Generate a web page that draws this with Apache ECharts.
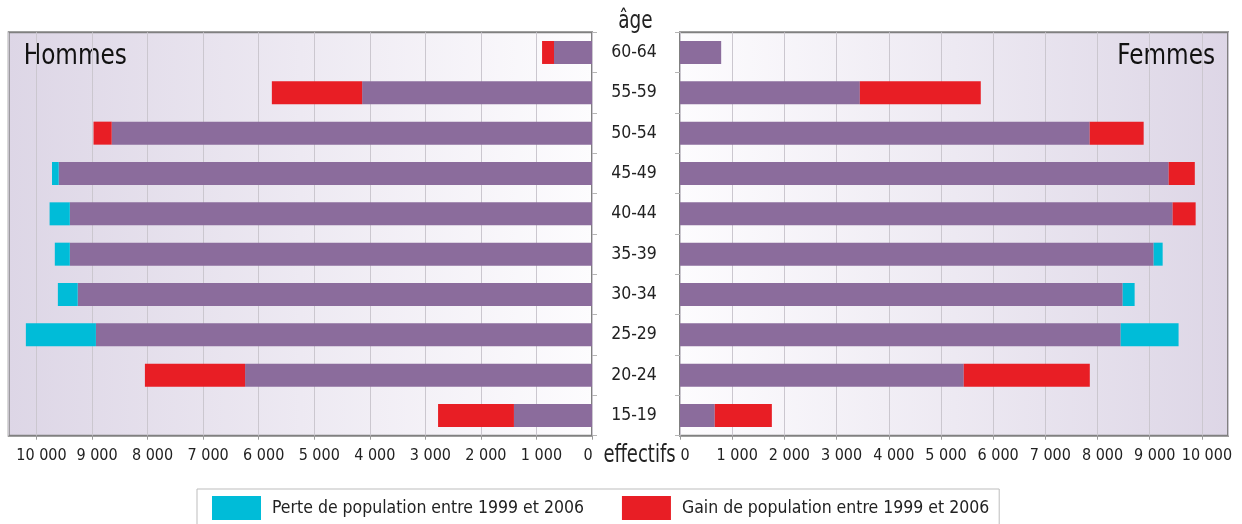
<!DOCTYPE html>
<html>
<head>
<meta charset="utf-8">
<script src="https://cdn.jsdelivr.net/npm/echarts@6/dist/echarts.min.js"></script>
<style>
html,body{margin:0;padding:0;background:#fff;}
#chart{width:1242px;height:524px;}
</style>
</head>
<body>
<div id="chart"></div>
<script>
const categories = ['15-19','20-24','25-29','30-34','35-39','40-44','45-49','50-54','55-59','60-64'];
// Hommes (left)
const hommesBase  = [1405, 6245, 8930, 9258, 9400, 9400, 9600, 8646, 4138, 684];
const hommesPerte = [0, 0, 1261, 357, 270, 364, 121, 0, 0, 0];
const hommesGain  = [1366, 1803, 0, 0, 0, 0, 0, 327, 1625, 215];
// Femmes (right)
const femmesBase  = [666, 5437, 8444, 8482, 9075, 9439, 9363, 7850, 3446, 789];
const femmesPerte = [0, 0, 1109, 229, 173, 0, 0, 0, 0, 0];
const femmesGain  = [1094, 2415, 0, 0, 0, 441, 501, 1034, 2317, 0];
const xTicks = [0,1000,2000,3000,4000,5000,6000,7000,8000,9000,10000];

const PERTE = 'Perte de population entre 1999 et 2006';
const GAIN = 'Gain de population entre 1999 et 2006';
const FONT = "'Liberation Sans Narrow','DejaVu Sans Condensed','Arial Narrow',sans-serif";
const PURPLE = '#8b6c9c', RED = '#e81e25', CYAN = '#00bcd8';
const TXT = '#222';

function fmt(v){
  if (xTicks.indexOf(v) < 0) return '';
  return String(v).replace(/\B(?=(\d{3})+(?!\d))/g, ' ');
}
const tickRich = {
  a:{fontFamily:FONT, fontSize:16, color:TXT, padding:[0,0,0,10]},
  b:{fontFamily:FONT, fontSize:16, color:TXT, padding:[0,8,0,0]}
};
const lav = '#ddd6e6', wht = '#fdfcfe';

const chart = echarts.init(document.getElementById('chart'));
function xAxisCfg(extra, leftSide){
  return Object.assign({
    type:'value', min:0, max:10500, interval:1000,
    axisLine:{show:false},
    axisTick:{show:true, length:4, lineStyle:{color:'#9a9a9a'}},
    splitLine:{show:true, lineStyle:{color:'#cbc7cf', width:1}},
    axisLabel:{
      formatter: v => { const t = fmt(v); if (!t) return ''; return (leftSide && v === 0) ? '{b|' + t + '}' : '{a|' + t + '}'; },
      rich:tickRich, fontFamily:FONT, fontSize:16, color:TXT, margin:12, showMaxLabel:false
    }
  }, extra);
}
chart.setOption({
  animation:false,
  textStyle:{fontFamily:FONT},
  grid:[
    {left:8.7, right:650, top:32.3, bottom:88.3, show:true, borderColor:'#808080', borderWidth:2,
     backgroundColor:new echarts.graphic.LinearGradient(0,0,1,0,[{offset:0,color:lav},{offset:1,color:wht}])},
    {left:680, right:14, top:32.3, bottom:88.3, show:true, borderColor:'#808080', borderWidth:2,
     backgroundColor:new echarts.graphic.LinearGradient(0,0,1,0,[{offset:0,color:wht},{offset:1,color:lav}])}
  ],
  xAxis:[
    xAxisCfg({gridIndex:0, inverse:true}, true),
    xAxisCfg({gridIndex:1}, false)
  ],
  yAxis:[
    {type:'category', gridIndex:0, data:categories, position:'right',
     axisLine:{show:false},
     axisTick:{show:true, length:5, lineStyle:{color:'#b5b5b5'}},
     axisLabel:{show:true, align:'center', margin:42, padding:[11,0,0,0], fontFamily:FONT, fontSize:17.5, color:TXT}},
    {type:'category', gridIndex:1, data:categories, position:'left',
     axisLine:{show:false},
     axisTick:{show:true, length:5, lineStyle:{color:'#b5b5b5'}},
     axisLabel:{show:false}}
  ],
  legend:{
    data:[PERTE, GAIN], left:197, top:489, icon:'rect', itemWidth:49, itemHeight:24,
    itemGap:38, padding:[7,10,8,15], borderColor:'#bdbdbd', borderWidth:1,
    textStyle:{fontFamily:FONT, fontSize:17.5, color:TXT, padding:[0,0,0,6]}
  },
  series:[
    {name:'base', type:'bar', stack:'h', xAxisIndex:0, yAxisIndex:0, barWidth:23, data:hommesBase, itemStyle:{color:PURPLE}},
    {name:PERTE, type:'bar', stack:'h', xAxisIndex:0, yAxisIndex:0, barWidth:23, data:hommesPerte, itemStyle:{color:CYAN}},
    {name:GAIN, type:'bar', stack:'h', xAxisIndex:0, yAxisIndex:0, barWidth:23, data:hommesGain, itemStyle:{color:RED}},
    {name:'base', type:'bar', stack:'f', xAxisIndex:1, yAxisIndex:1, barWidth:23, data:femmesBase, itemStyle:{color:PURPLE}},
    {name:PERTE, type:'bar', stack:'f', xAxisIndex:1, yAxisIndex:1, barWidth:23, data:femmesPerte, itemStyle:{color:CYAN}},
    {name:GAIN, type:'bar', stack:'f', xAxisIndex:1, yAxisIndex:1, barWidth:23, data:femmesGain, itemStyle:{color:RED}}
  ],
  graphic:[
    {type:'text', x:635.5, y:21, scaleX:0.82, style:{text:'âge', align:'center', verticalAlign:'middle', fontFamily:FONT, fontSize:25, fill:TXT}},
    {type:'text', x:639.5, y:455, scaleX:0.8, style:{text:'effectifs', align:'center', verticalAlign:'middle', fontFamily:FONT, fontSize:25, fill:TXT}},
    {type:'text', x:23.7, y:57, scaleX:0.92, style:{text:'Hommes', align:'left', verticalAlign:'middle', fontFamily:FONT, fontSize:28, fill:'#111'}},
    {type:'text', x:1215, y:57, scaleX:0.92, style:{text:'Femmes', align:'right', verticalAlign:'middle', fontFamily:FONT, fontSize:28, fill:'#111'}}
  ]
});
</script>
</body>
</html>
